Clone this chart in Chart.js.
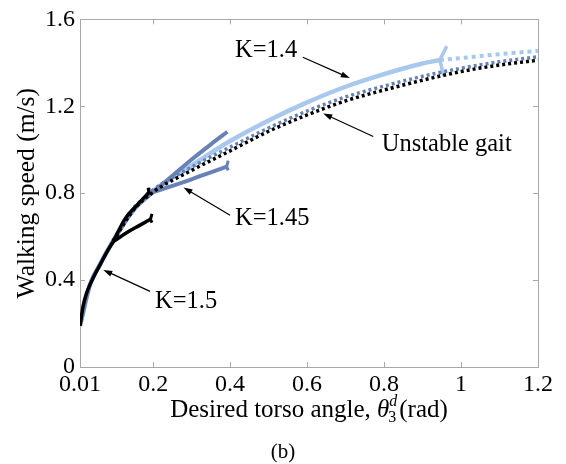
<!DOCTYPE html>
<html>
<head>
<meta charset="utf-8">
<script src="https://cdn.jsdelivr.net/npm/chart.js@4.4.0/dist/chart.umd.min.js"></script>
<style>
  body { margin: 0; background: #fff; font-family: "Liberation Serif", "DejaVu Serif", serif; }
  #wrap { width: 566px; height: 464px; position: relative; }
</style>
</head>
<body>
<div id="wrap"><canvas id="speedChart"></canvas></div>
<script>
// Tick values on both axes
const xTicks = [0.01, 0.2, 0.4, 0.6, 0.8, 1, 1.2];
const yTicks = [0, 0.4, 0.8, 1.2, 1.6];

// K=1.5 (black solid): main branch, then upper and lower branch
const k15MainX = [0.01, 0.018, 0.027, 0.036, 0.05, 0.062, 0.08, 0.096];
const k15MainY = [0.19, 0.28, 0.34, 0.379, 0.43, 0.47, 0.53, 0.576];
const k15UpX = [0.096, 0.127, 0.157, 0.189];
const k15UpY = [0.576, 0.682, 0.743, 0.803];
const k15LowX = [0.096, 0.13, 0.165, 0.193];
const k15LowY = [0.576, 0.617, 0.652, 0.68];
const k15UpForkX = [0.187, 0.189, 0.197];
const k15UpForkY = [0.825, 0.803, 0.797];
const k15LowForkX = [0.197, 0.193, 0.197];
const k15LowForkY = [0.705, 0.68, 0.665];

// K=1.45 (mid blue solid)
const k145MainX = [0.01, 0.036, 0.062, 0.096, 0.15, 0.2];
const k145MainY = [0.19, 0.379, 0.472, 0.58, 0.725, 0.805];
const k145UpX = [0.2, 0.25, 0.3, 0.35, 0.393];
const k145UpY = [0.805, 0.88, 0.955, 1.025, 1.083];
const k145LowX = [0.2, 0.25, 0.3, 0.35, 0.391];
const k145LowY = [0.805, 0.834, 0.864, 0.896, 0.922];
const k145ForkX = [0.395, 0.391, 0.395];
const k145ForkY = [0.95, 0.922, 0.905];

// K=1.4 (light blue solid, then dotted past the fork)
const k14X = [0.01, 0.036, 0.062, 0.096, 0.15, 0.2, 0.25, 0.3, 0.4, 0.5, 0.6, 0.7, 0.8, 0.9, 0.945];
const k14Y = [0.19, 0.38, 0.472, 0.58, 0.725, 0.81, 0.872, 0.928, 1.04, 1.135, 1.218, 1.29, 1.348, 1.397, 1.413];
const k14ForkX = [0.963, 0.945, 0.955];
const k14ForkY = [1.477, 1.413, 1.34];
const k14DotX = [0.945, 1.0, 1.1, 1.2];
const k14DotY = [1.413, 1.422, 1.44, 1.455];

// Unstable gait (black dotted) and K=1.45 unstable branch (blue dotted)
const unstableX = [0.096, 0.15, 0.2, 0.3, 0.4, 0.5, 0.6, 0.7, 0.8, 0.9, 1.0, 1.1, 1.2];
const unstableY = [0.58, 0.725, 0.805, 0.905, 0.995, 1.085, 1.16, 1.225, 1.275, 1.32, 1.36, 1.39, 1.412];
const blueDotX = [0.15, 0.2, 0.3, 0.4, 0.5, 0.6, 0.7, 0.8, 0.9, 1.0, 1.1, 1.2];
const blueDotY = [0.735, 0.815, 0.92, 1.012, 1.1, 1.178, 1.243, 1.293, 1.338, 1.375, 1.405, 1.428];

// Text notes with arrows, in data units
const notes = [
  { text: 'K=1.4', x: 0.413, y: 1.426, fromX: 0.589, fromY: 1.426, toX: 0.711, toY: 1.33 },
  { text: 'K=1.45', x: 0.413, y: 0.653, fromX: 0.40, fromY: 0.699, toX: 0.279, toY: 0.826 },
  { text: 'K=1.5', x: 0.205, y: 0.271, fromX: 0.192, fromY: 0.348, toX: 0.0705, toY: 0.447 },
  { text: 'Unstable gait', x: 0.794, y: 0.993, fromX: 0.772, fromY: 1.061, toX: 0.642, toY: 1.167 }
];

const serif = '"Liberation Serif", "DejaVu Serif", serif';
const lightBlue = '#a9c8ee';
const midBlue = '#6882b6';

function pts(xs, ys) {
  return xs.map((x, i) => ({ x: x, y: ys[i] }));
}

function curve(xs, ys, color, width, order, dash, smooth) {
  return {
    data: pts(xs, ys),
    borderColor: color,
    borderWidth: width,
    borderDash: dash || [],
    borderCapStyle: 'butt',
    pointRadius: 0,
    fill: false,
    cubicInterpolationMode: smooth === false ? 'default' : 'monotone',
    tension: 0,
    order: order
  };
}

function drawArrow(ctx, x1, y1, x2, y2) {
  const ang = Math.atan2(y2 - y1, x2 - x1);
  const len = 9, half = 3;
  ctx.beginPath();
  ctx.moveTo(x1, y1);
  ctx.lineTo(x2 - Math.cos(ang) * len * 0.8, y2 - Math.sin(ang) * len * 0.8);
  ctx.stroke();
  ctx.beginPath();
  ctx.moveTo(x2, y2);
  ctx.lineTo(x2 - Math.cos(ang) * len - Math.sin(ang) * half, y2 - Math.sin(ang) * len + Math.cos(ang) * half);
  ctx.lineTo(x2 - Math.cos(ang) * len + Math.sin(ang) * half, y2 - Math.sin(ang) * len - Math.cos(ang) * half);
  ctx.closePath();
  ctx.fill();
}

// Box, inward tick marks, notes and axis titles
const decor = {
  id: 'decor',
  beforeDatasetsDraw(chart) {
    const { ctx, chartArea: a, scales: { x, y } } = chart;
    ctx.save();
    ctx.strokeStyle = '#a8a8a8';
    ctx.lineWidth = 1;
    ctx.strokeRect(Math.round(a.left) + 0.5, Math.round(a.top) + 0.5,
      Math.round(a.right - a.left), Math.round(a.bottom - a.top));
    ctx.beginPath();
    xTicks.forEach(v => {
      const px = Math.round(x.getPixelForValue(v)) + 0.5;
      ctx.moveTo(px, a.bottom); ctx.lineTo(px, a.bottom - 5);
      ctx.moveTo(px, a.top); ctx.lineTo(px, a.top + 5);
    });
    yTicks.forEach(v => {
      const py = Math.round(y.getPixelForValue(v)) + 0.5;
      ctx.moveTo(a.left, py); ctx.lineTo(a.left + 5, py);
      ctx.moveTo(a.right, py); ctx.lineTo(a.right - 5, py);
    });
    ctx.stroke();
    ctx.restore();
  },
  afterDraw(chart) {
    const { ctx, chartArea: a, scales: { x, y } } = chart;
    ctx.save();
    ctx.fillStyle = '#000';
    ctx.strokeStyle = '#000';
    ctx.lineWidth = 1.2;
    ctx.font = '24.5px ' + serif;
    ctx.textBaseline = 'alphabetic';
    ctx.textAlign = 'left';
    notes.forEach(n => {
      ctx.fillText(n.text, x.getPixelForValue(n.x), y.getPixelForValue(n.y));
      drawArrow(ctx, x.getPixelForValue(n.fromX), y.getPixelForValue(n.fromY),
        x.getPixelForValue(n.toX), y.getPixelForValue(n.toY));
    });

    // x title with theta_3^d
    const part1 = 'Desired torso angle, ';
    const part3 = '(rad)';
    ctx.font = '25px ' + serif;
    const w1 = ctx.measureText(part1).width;
    const w3 = ctx.measureText(part3).width;
    ctx.font = 'italic 25px ' + serif;
    const wTheta = ctx.measureText('\u03b8').width;
    ctx.font = 'italic 16px ' + serif;
    const wScript = ctx.measureText('d').width + 2;
    const total = w1 + wTheta + wScript + w3;
    const base = 417;
    let cx = (a.left + a.right) / 2 - total / 2;
    ctx.font = '25px ' + serif;
    ctx.fillText(part1, cx, base);
    cx += w1;
    ctx.font = 'italic 25px ' + serif;
    ctx.fillText('\u03b8', cx, base);
    cx += wTheta;
    ctx.font = 'italic 16px ' + serif;
    ctx.fillText('d', cx, base - 11);
    ctx.font = '16px ' + serif;
    ctx.fillText('3', cx - 1, base + 5);
    cx += wScript;
    ctx.font = '25px ' + serif;
    ctx.fillText(part3, cx, base);

    // y title
    ctx.save();
    ctx.translate(27, (a.top + a.bottom) / 2);
    ctx.rotate(-Math.PI / 2);
    ctx.textAlign = 'center';
    ctx.textBaseline = 'middle';
    ctx.font = '25.5px ' + serif;
    ctx.fillText('Walking speed (m/s)', 0, 0);
    ctx.restore();

    // panel label
    ctx.textAlign = 'center';
    ctx.font = '21px ' + serif;
    ctx.fillText('(b)', 283, 458);
    ctx.restore();
  }
};

function buildChart() {
  new Chart(document.getElementById('speedChart'), {
    type: 'line',
    data: {
      datasets: [
        curve(k15MainX, k15MainY, '#000', 3.5, 1),
        curve(k15UpX, k15UpY, '#000', 3.5, 1),
        curve(k15LowX, k15LowY, '#000', 3.5, 1),
        curve(k15UpForkX, k15UpForkY, '#000', 3, 1, null, false),
        curve(k15LowForkX, k15LowForkY, '#000', 3, 1, null, false),
        curve(unstableX, unstableY, '#000', 3.5, 2, [3, 3]),
        curve(blueDotX, blueDotY, midBlue, 3.5, 3, [3, 3]),
        curve(k145MainX, k145MainY, midBlue, 4, 4),
        curve(k145UpX, k145UpY, midBlue, 4, 4),
        curve(k145LowX, k145LowY, midBlue, 4, 4),
        curve(k145ForkX, k145ForkY, midBlue, 3, 4, null, false),
        curve(k14X, k14Y, lightBlue, 4.5, 5),
        curve(k14ForkX, k14ForkY, lightBlue, 3.5, 5, null, false),
        curve(k14DotX, k14DotY, lightBlue, 4, 5, [4, 4])
      ]
    },
    options: {
      responsive: true,
      maintainAspectRatio: false,
      animation: false,
      layout: { padding: { left: 0, top: 14, right: 28, bottom: 0 } },
      plugins: {
        legend: { display: false },
        tooltip: { enabled: false },
        title: { display: false }
      },
      scales: {
        x: {
          type: 'linear',
          min: 0.01,
          max: 1.2,
          afterBuildTicks: s => { s.ticks = xTicks.map(v => ({ value: v })); },
          afterFit: s => { s.height = 97; },
          grid: { display: false, drawTicks: false },
          border: { display: false },
          ticks: {
            color: '#000',
            font: { family: serif, size: 24 },
            padding: 3,
            maxRotation: 0,
            autoSkip: false,
            callback: v => String(v)
          }
        },
        y: {
          type: 'linear',
          min: 0,
          max: 1.6,
          afterBuildTicks: s => { s.ticks = yTicks.map(v => ({ value: v })); },
          afterFit: s => { s.width = 80; },
          grid: { display: false, drawTicks: false },
          border: { display: false },
          ticks: {
            color: '#000',
            font: { family: serif, size: 24 },
            padding: 5,
            autoSkip: false,
            callback: v => String(v)
          }
        }
      }
    },
    plugins: [decor]
  });
}

// make sure the serif faces are ready before drawing on canvas
Promise.all([
  document.fonts.load('23px "Liberation Serif"'),
  document.fonts.load('italic 23px "Liberation Serif"')
]).catch(() => {}).then(buildChart);
</script>
</body>
</html>
